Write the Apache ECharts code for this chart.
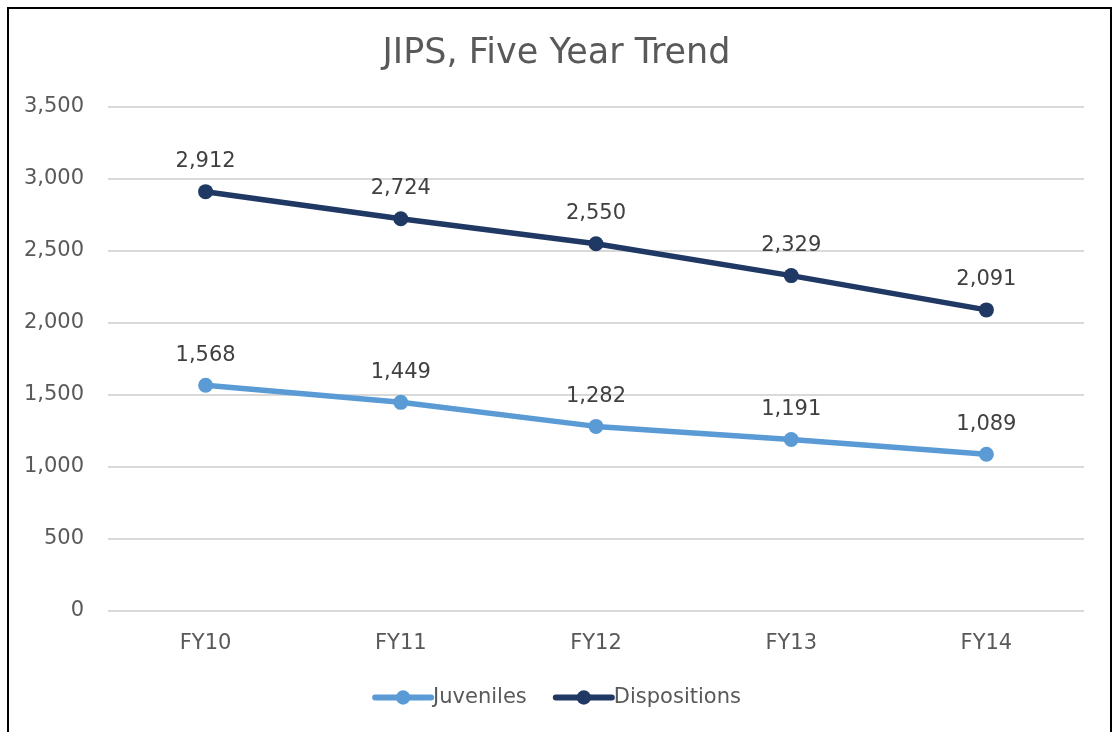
<!DOCTYPE html>
<html>
<head>
<meta charset="utf-8">
<script src="https://cdn.jsdelivr.net/npm/echarts@6/dist/echarts.min.js"></script>
<style>
  html, body { margin: 0; padding: 0; background: #fff; }
  #chart { width: 1113px; height: 732px; }
</style>
</head>
<body>
<div id="chart"></div>
<script>
const years = ['FY10', 'FY11', 'FY12', 'FY13', 'FY14'];
const juveniles = [1568, 1449, 1282, 1191, 1089];
const dispositions = [2912, 2724, 2550, 2329, 2091];

const font = 'DejaVu Sans, Verdana, sans-serif';
const fmt = v => v.toLocaleString('en-US');
const colJuv = '#5b9bd5';
const colDisp = '#1f3864';

function lineSeries(name, data, color) {
  return {
    name: name,
    type: 'line',
    data: data,
    symbol: 'circle',
    symbolSize: 15,
    lineStyle: { width: 5.5, color: color, cap: 'round' },
    itemStyle: { color: color },
    label: {
      show: true,
      position: 'top',
      distance: 12,
      color: '#404040',
      fontFamily: font,
      fontSize: 21,
      formatter: p => fmt(p.value)
    }
  };
}

const chart = echarts.init(document.getElementById('chart'));
chart.setOption({
  animation: false,
  backgroundColor: '#fff',
  textStyle: { fontFamily: font },
  title: {
    text: 'JIPS, Five Year Trend',
    left: 'center',
    top: 31,
    textStyle: { color: '#595959', fontSize: 35, fontWeight: 'normal', fontFamily: font }
  },
  legend: {
    bottom: 19,
    left: 'center',
    itemWidth: 56,
    itemHeight: 18,
    itemGap: 26,
    textStyle: { color: '#595959', fontSize: 21, fontFamily: font, padding: [0, 0, 0, -3] },
    data: [
      { name: 'Juveniles', itemStyle: { color: colJuv }, lineStyle: { color: colJuv, width: 6 } },
      { name: 'Dispositions', itemStyle: { color: colDisp }, lineStyle: { color: colDisp, width: 6 } }
    ]
  },
  grid: { left: 108, right: 29, top: 107, bottom: 121, containLabel: false },
  xAxis: {
    type: 'category',
    data: years,
    boundaryGap: true,
    axisLine: { show: false },
    axisTick: { show: false },
    axisLabel: { color: '#595959', fontSize: 21, margin: 22, fontFamily: font }
  },
  yAxis: {
    type: 'value',
    min: 0,
    max: 3500,
    interval: 500,
    axisLine: { show: false },
    axisTick: { show: false },
    splitLine: { lineStyle: { color: '#d9d9d9', width: 2 } },
    axisLabel: { color: '#595959', fontSize: 21, margin: 24, fontFamily: font, formatter: fmt }
  },
  graphic: [{
    type: 'rect',
    shape: { x: 8, y: 8, width: 1103, height: 760 },
    style: { fill: 'none', stroke: '#000', lineWidth: 2 },
    silent: true
  }],
  series: [
    lineSeries('Juveniles', juveniles, colJuv),
    lineSeries('Dispositions', dispositions, colDisp)
  ]
});
</script>
</body>
</html>
